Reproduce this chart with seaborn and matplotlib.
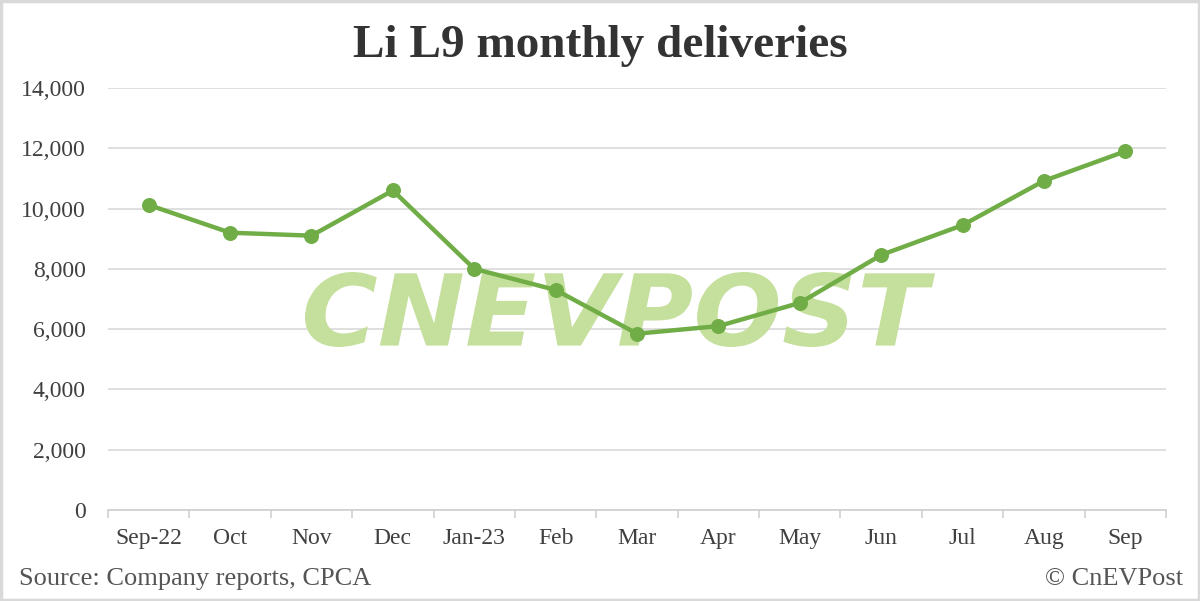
import numpy as np
import pandas as pd
import matplotlib
matplotlib.use("Agg")
import matplotlib.pyplot as plt
import seaborn as sns
from matplotlib.ticker import FuncFormatter
from matplotlib.textpath import TextPath
from matplotlib.patches import PathPatch
from matplotlib.font_manager import FontProperties
from matplotlib.transforms import Affine2D

# data
months = ["Sep-22", "Oct", "Nov", "Dec", "Jan-23", "Feb", "Mar",
          "Apr", "May", "Jun", "Jul", "Aug", "Sep"]
deliveries = [10120, 9200, 9100, 10600, 8000, 7300, 5850,
              6100, 6870, 8460, 9450, 10920, 11900]
y_ticks = [0, 2000, 4000, 6000, 8000, 10000, 12000, 14000]

df = pd.DataFrame({"pos": np.arange(len(months)), "deliveries": deliveries})

sns.set_theme(style="white")
plt.rcParams["font.family"] = ["Liberation Serif", "DejaVu Serif"]

W, H = 1200, 601
fig = plt.figure(figsize=(W / 100, H / 100), dpi=100)
ax = fig.add_axes([0.09, 0.1514, 0.8817, 0.7022])

green = "#70ad47"
sns.lineplot(data=df, x="pos", y="deliveries", ax=ax, color=green,
             linewidth=3.2, marker="o", markersize=10,
             markeredgecolor=green, zorder=5)

# watermark, stretched to the box it takes in the picture (pixels)
tp = TextPath((0, 0), "CNEVPOST", size=100,
              prop=FontProperties(family="DejaVu Sans", weight="bold",
                                  style="oblique"))
bb = tp.get_extents()
x0, x1, ytop, ybot = 305, 935, 272, 347
tr = (Affine2D().translate(-bb.x0, -bb.y0)
      .scale((x1 - x0) / bb.width, (ybot - ytop) / bb.height)
      .translate(x0, H - ybot))
wm = PathPatch(tp, facecolor="#c5df9c", edgecolor="none", zorder=3,
               transform=tr, clip_on=False)
ax.add_artist(wm)

ax.set_xlim(-0.5, len(months) - 0.5)
ax.set_ylim(0, 14000)
ax.set_yticks(y_ticks)
ax.yaxis.set_major_formatter(FuncFormatter(lambda v, p: f"{int(v):,}"))
ax.set_xticks(np.arange(len(months)))
ax.set_xticklabels(months)
ax.set_xticks(np.arange(len(months) + 1) - 0.5, minor=True)
ax.grid(axis="y", color="#d9d9d9", linewidth=1.2, zorder=1)
ax.set_axisbelow(True)

for s in ["top", "right", "left"]:
    ax.spines[s].set_visible(False)
ax.spines["bottom"].set_color("#d0d0d0")
ax.spines["bottom"].set_linewidth(1.2)

ax.tick_params(axis="x", which="major", length=0, pad=13,
               labelsize=17, labelcolor="#404040")
ax.tick_params(axis="x", which="minor", length=6, color="#d0d0d0",
               width=1.2, bottom=True)
ax.tick_params(axis="y", length=0, pad=16, labelsize=17,
               labelcolor="#404040")
ax.set_xlabel("")
ax.set_ylabel("")

fig.text(0.5, 0.923, "Li L9 monthly deliveries", ha="center", va="center",
         fontsize=34, fontweight="bold", color="#333333")
fig.text(0.016, 0.036, "Source: Company reports, CPCA", ha="left",
         va="center", fontsize=19, color="#555555")
fig.text(0.986, 0.036, "\u00a9 CnEVPost", ha="right", va="center",
         fontsize=19, color="#555555")

# light frame round the picture
fig.patches.append(plt.Rectangle((0.001, 0.002), 0.998, 0.996,
                                 transform=fig.transFigure, fill=False,
                                 edgecolor="#d9d9d9", linewidth=2.5))

fig.savefig("out.png", dpi=100)
